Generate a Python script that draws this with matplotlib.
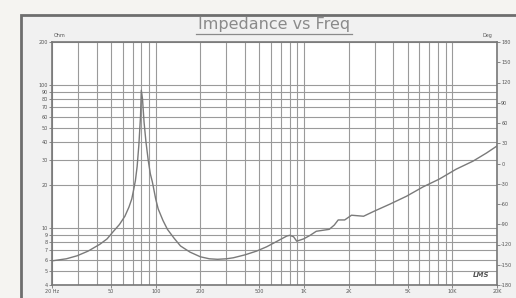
import matplotlib
matplotlib.use("Agg")
import matplotlib.pyplot as plt
from matplotlib.patches import Rectangle
from matplotlib.ticker import FixedLocator, NullFormatter

# ---- data ----
freq_hz = [20, 25, 29.5, 35, 42, 47, 51.5, 57, 62, 66, 69, 71, 73, 75, 77, 79, 80,
           81.5, 83.5, 86, 89, 92, 95, 100, 104, 112, 120, 133, 147, 170, 200, 230,
           261, 300, 334, 400, 478, 560, 660, 766, 800, 850, 893, 993, 1100, 1210,
           1480, 1600, 1700, 1880, 2090, 2300, 2520, 2960, 3790, 4910, 6340, 8160,
           10600, 13800, 17000, 20000]
impedance_ohm = [5.9, 6.1, 6.4, 6.9, 7.7, 8.4, 9.4, 10.6, 12.1, 14.0, 16.0, 18.5, 21.5,
                 27, 38, 60, 92, 80, 55, 40, 30, 24, 21, 16, 13.6, 11.3, 9.8, 8.5, 7.5,
                 6.8, 6.3, 6.1, 6.05, 6.1, 6.2, 6.5, 6.9, 7.4, 8.1, 8.8, 8.9, 8.7, 8.1,
                 8.4, 8.9, 9.5, 9.8, 10.5, 11.4, 11.4, 12.3, 12.2, 12.1, 13.1, 14.7,
                 16.7, 19.4, 22.0, 25.8, 29.4, 33.5, 37.5]

x_tick_vals = [20, 50, 100, 200, 500, 1000, 2000, 5000, 10000, 20000]
x_tick_labels = ["20 Hz", "50", "100", "200", "500", "1K", "2K", "5K", "10K", "20K"]
y_tick_vals = [4, 5, 6, 7, 8, 9, 10, 20, 30, 40, 50, 60, 70, 80, 90, 100, 200]
y_tick_labels = ["4", "5", "6", "7", "8", "9", "10", "20", "30", "40", "50", "60",
                 "70", "80", "90", "100", "200"]
phase_ticks = [-180, -150, -120, -90, -60, -30, 0, 30, 60, 90, 120, 150, 180]
title_text = "Impedance vs Freq"

W, H = 516, 298
fig = plt.figure(figsize=(W / 100, H / 100), dpi=100)
fig.patch.set_facecolor("#f5f4f1")

# panel
panel = Rectangle((21 / W, -0.05), 1.0, 1 - 15 / H + 0.05, transform=fig.transFigure,
                  facecolor="#f1f1f1", edgecolor="#6e6e6e", linewidth=2.0, zorder=-5)
fig.patches.append(panel)

ax = fig.add_axes([52 / W, 1 - 285 / H, (497 - 52) / W, (285 - 42) / H], zorder=2)
ax.set_facecolor("white")
ax.set_xscale("log")
ax.set_yscale("log")
ax.set_xlim(20, 20000)
ax.set_ylim(4, 200)

# minor grid positions
xgrid = [m * 10 ** e for e in range(1, 5) for m in range(1, 10)]
xgrid = [v for v in xgrid if 20 <= v <= 20000]
ygrid = [m * 10 ** e for e in range(0, 3) for m in range(1, 10)]
ygrid = [v for v in ygrid if 4 <= v <= 200]

ax.xaxis.set_major_locator(FixedLocator(x_tick_vals))
ax.xaxis.set_minor_locator(FixedLocator(xgrid))
ax.xaxis.set_minor_formatter(NullFormatter())
ax.set_xticklabels(x_tick_labels)
ax.yaxis.set_major_locator(FixedLocator(y_tick_vals))
ax.yaxis.set_minor_locator(FixedLocator(ygrid))
ax.yaxis.set_minor_formatter(NullFormatter())
ax.set_yticklabels(y_tick_labels)

ax.grid(True, which="both", color="#9a9a9a", linewidth=0.8)
ax.set_axisbelow(True)
ax.tick_params(which="both", length=2, width=0.6, color="#777777", labelsize=3.5,
               labelcolor="#555555", pad=1)
ax.tick_params(which="minor", length=0)
for s in ax.spines.values():
    s.set_color("#777777")
    s.set_linewidth(1.2)

ax.plot(freq_hz, impedance_ohm, color="#7a7a7a", linewidth=1.0, zorder=3)

ax2 = ax.twinx()
ax2.set_ylim(-180, 180)
ax2.set_yticks(phase_ticks)
ax2.set_yticklabels([str(v) for v in phase_ticks])
ax2.tick_params(length=2, width=0.6, color="#777777", labelsize=3.5,
                labelcolor="#555555", pad=1)
for s in ax2.spines.values():
    s.set_visible(False)

fig.text(54 / W, 1 - 38 / H, "Ohm", fontsize=3.5, color="#555555", ha="left", va="bottom")
fig.text(492 / W, 1 - 38 / H, "Deg", fontsize=3.5, color="#555555", ha="right", va="bottom")
fig.text(481 / W, 1 - 275 / H, "LMS", fontsize=5, color="#555555", ha="center",
         va="center", fontweight="bold", style="italic", zorder=10)

fig.text(274 / W, 1 - 25 / H, title_text, fontsize=11.5, color="#8a8a8a",
         ha="center", va="center", family="DejaVu Sans")
fig.add_artist(plt.Line2D([196 / W, 352 / W], [1 - 34 / H, 1 - 34 / H],
                          transform=fig.transFigure, color="#8a8a8a", linewidth=0.9))

fig.savefig("out.png", dpi=100, facecolor=fig.get_facecolor())
